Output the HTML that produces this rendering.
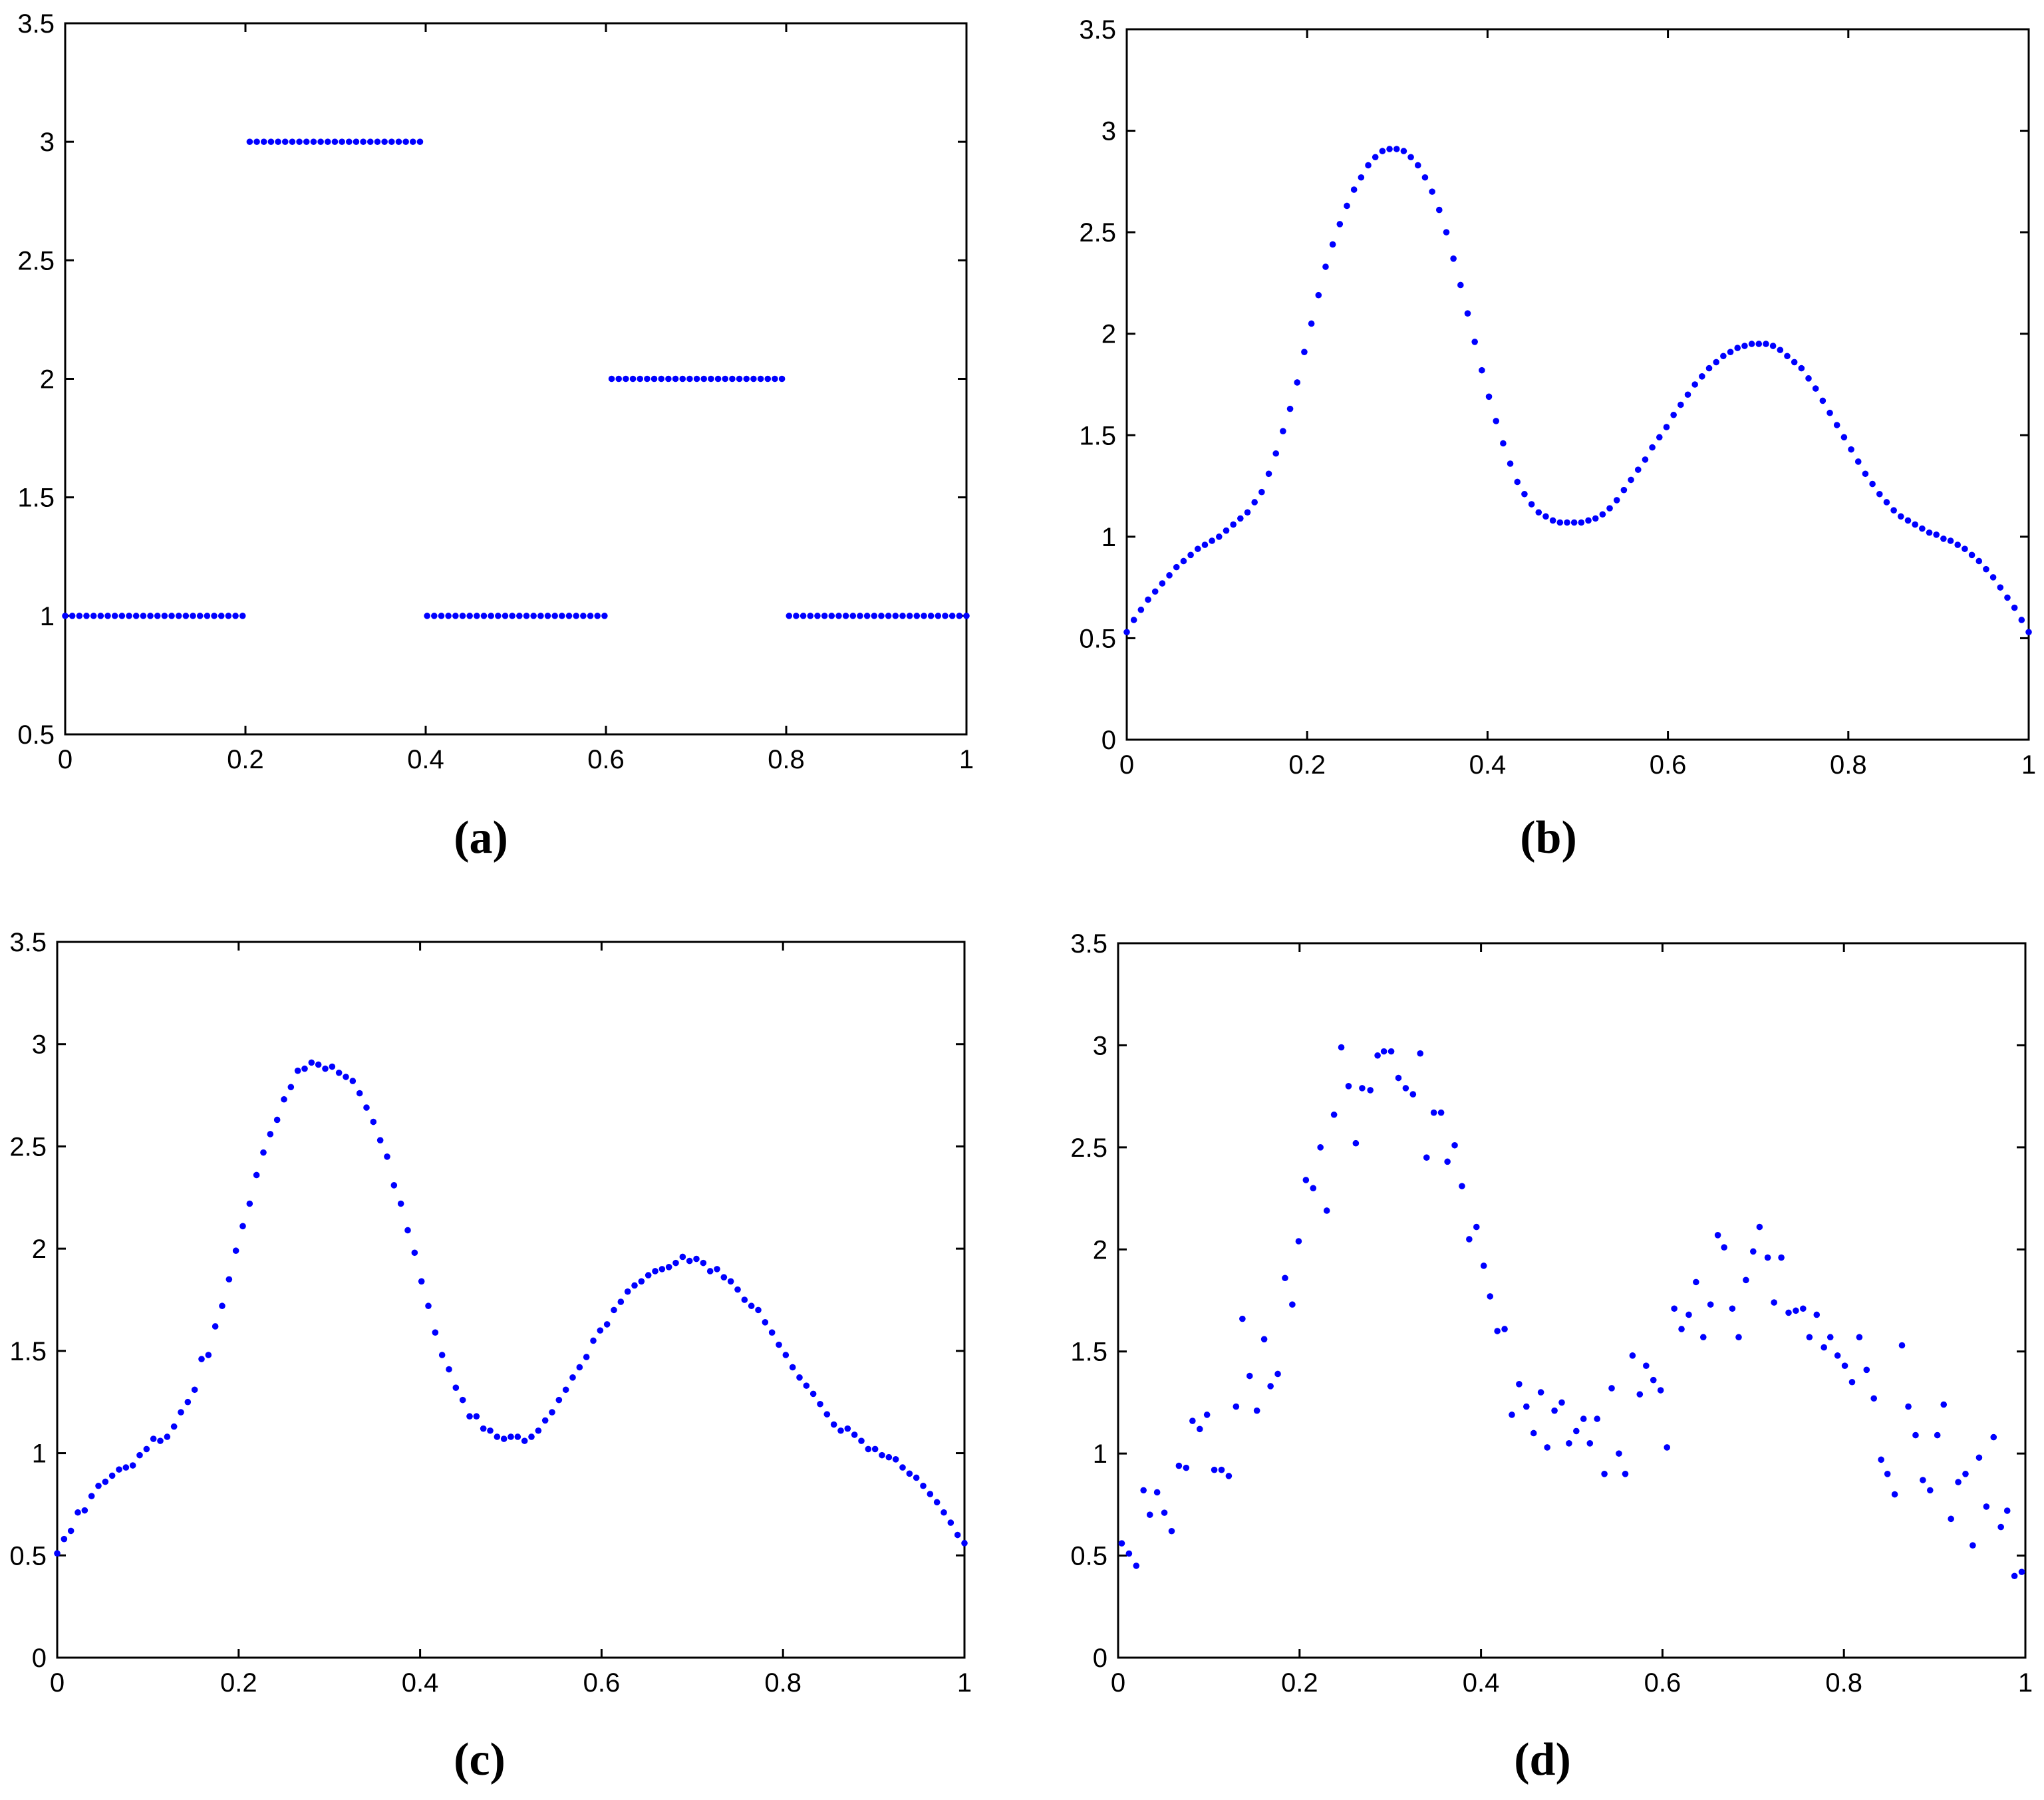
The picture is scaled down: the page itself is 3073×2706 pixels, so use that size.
<!DOCTYPE html>
<html><head><meta charset="utf-8"><style>
html,body{margin:0;padding:0;background:#fff}
svg{display:block}
</style></head><body>
<svg id="fig" width="3073" height="2706" viewBox="0 0 3073 2706" xmlns="http://www.w3.org/2000/svg"></svg>
<script>
// ---- data ----
const xTicks = [0, 0.2, 0.4, 0.6, 0.8, 1];
const xTickLabels = ["0", "0.2", "0.4", "0.6", "0.8", "1"];
const yTicksA = [0.5, 1, 1.5, 2, 2.5, 3, 3.5];
const yTickLabelsA = ["0.5", "1", "1.5", "2", "2.5", "3", "3.5"];
const yTicksB = [0, 0.5, 1, 1.5, 2, 2.5, 3, 3.5];
const yTickLabelsB = ["0", "0.5", "1", "1.5", "2", "2.5", "3", "3.5"];
const panelLabels = ["(a)", "(b)", "(c)", "(d)"];

// panel (a): piecewise constant levels per segment
const segLevelsA = [1, 3, 1, 2, 1];
const nSamples = 128;

// panel (b): exact smooth profile
const seriesB = [0.53,0.59,0.64,0.69,0.73,0.77,0.81,0.85,0.88,0.91,0.94,0.96,0.98,1.00,1.03,1.06,1.09,1.12,1.17,1.22,
1.31,1.41,1.52,1.63,1.76,1.91,2.05,2.19,2.33,2.44,2.54,2.63,2.71,2.77,2.83,2.87,2.90,2.91,2.91,2.90,
2.87,2.83,2.77,2.70,2.61,2.50,2.37,2.24,2.10,1.96,1.82,1.69,1.57,1.46,1.36,1.27,1.21,1.16,1.12,1.10,
1.08,1.07,1.07,1.07,1.07,1.08,1.09,1.11,1.14,1.18,1.23,1.28,1.33,1.38,1.44,1.49,1.54,1.60,1.65,1.70,
1.75,1.79,1.83,1.86,1.89,1.91,1.93,1.94,1.95,1.95,1.95,1.94,1.92,1.89,1.86,1.83,1.78,1.73,1.67,1.61,
1.55,1.49,1.43,1.37,1.31,1.26,1.21,1.17,1.13,1.10,1.08,1.06,1.04,1.02,1.01,0.99,0.98,0.96,0.94,0.91,
0.88,0.84,0.80,0.75,0.70,0.65,0.59,0.53];

// panel (c): lightly noisy profile
const seriesC = [0.51,0.58,0.62,0.71,0.72,0.79,0.84,0.86,0.89,0.92,0.93,0.94,0.99,1.02,1.07,1.06,1.08,1.13,1.20,1.25,
1.31,1.46,1.48,1.62,1.72,1.85,1.99,2.11,2.22,2.36,2.47,2.56,2.63,2.73,2.79,2.87,2.88,2.91,2.90,2.88,
2.89,2.86,2.84,2.82,2.76,2.69,2.62,2.53,2.45,2.31,2.22,2.09,1.98,1.84,1.72,1.59,1.48,1.41,1.32,1.26,
1.18,1.18,1.12,1.11,1.08,1.07,1.08,1.08,1.06,1.08,1.11,1.16,1.20,1.26,1.31,1.37,1.42,1.47,1.55,1.60,
1.63,1.70,1.74,1.79,1.82,1.84,1.87,1.89,1.90,1.91,1.93,1.96,1.94,1.95,1.93,1.89,1.90,1.86,1.84,1.80,
1.75,1.72,1.70,1.64,1.59,1.53,1.48,1.42,1.37,1.33,1.29,1.24,1.19,1.14,1.11,1.12,1.09,1.06,1.02,1.02,
0.99,0.98,0.97,0.93,0.90,0.88,0.84,0.80,0.76,0.71,0.66,0.60,0.56];

// panel (d): strongly noisy samples (x, y)
const xD = [.004,.012,.020,.028,.035,.043,.051,.059,.067,.075,.082,.090,.098,.106,.114,.122,.130,.137,.145,.153,
.161,.168,.176,.184,.192,.199,.207,.215,.223,.230,.238,.246,.254,.262,.269,.278,.286,.293,.301,.309,
.317,.325,.333,.340,.348,.356,.363,.371,.379,.387,.395,.403,.410,.418,.426,.434,.442,.450,.458,.466,
.473,.481,.489,.497,.505,.513,.520,.528,.536,.544,.552,.559,.567,.575,.582,.590,.598,.605,.613,.621,
.629,.637,.645,.653,.661,.668,.677,.684,.692,.700,.707,.716,.723,.731,.739,.747,.755,.762,.770,.778,
.785,.793,.801,.809,.817,.825,.833,.841,.848,.856,.864,.871,.879,.887,.895,.903,.910,.918,.926,.934,
.942,.949,.957,.965,.973,.980,.988,.996];
const yD = [.56,.51,.45,.82,.70,.81,.71,.62,.94,.93,1.16,1.12,1.19,.92,.92,.89,1.23,1.66,1.38,1.21,
1.56,1.33,1.39,1.86,1.73,2.04,2.34,2.30,2.50,2.19,2.66,2.99,2.80,2.52,2.79,2.78,2.95,2.97,2.97,2.84,
2.79,2.76,2.96,2.45,2.67,2.67,2.43,2.51,2.31,2.05,2.11,1.92,1.77,1.60,1.61,1.19,1.34,1.23,1.10,1.30,
1.03,1.21,1.25,1.05,1.11,1.17,1.05,1.17,.90,1.32,1.00,.90,1.48,1.29,1.43,1.36,1.31,1.03,1.71,1.61,
1.68,1.84,1.57,1.73,2.07,2.01,1.71,1.57,1.85,1.99,2.11,1.96,1.74,1.96,1.69,1.70,1.71,1.57,1.68,1.52,
1.57,1.48,1.43,1.35,1.57,1.41,1.27,.97,.90,.80,1.53,1.23,1.09,.87,.82,1.09,1.24,.68,.86,.90,
.55,.98,.74,1.08,.64,.72,.40,.42];

// ---- layout ----
const panels = [
  {name:"a", x0:98,  x1:1453, y0:35,   y1:1104, ymin:0.5, yt:yTicksA, yl:yTickLabelsA, lx:723,  ly:1282},
  {name:"b", x0:1694,x1:3050, y0:44,   y1:1112, ymin:0,   yt:yTicksB, yl:yTickLabelsB, lx:2328, ly:1282},
  {name:"c", x0:86,  x1:1450, y0:1416, y1:2492, ymin:0,   yt:yTicksB, yl:yTickLabelsB, lx:721,  ly:2668},
  {name:"d", x0:1681,x1:3045, y0:1418, y1:2492, ymin:0,   yt:yTicksB, yl:yTickLabelsB, lx:2319, ly:2668}
];
const NS = "http://www.w3.org/2000/svg";
const svg = document.getElementById("fig");
function mk(tag, attrs, parent){
  const e = document.createElementNS(NS, tag);
  for (const k in attrs) e.setAttribute(k, attrs[k]);
  (parent||svg).appendChild(e);
  return e;
}
function xs(p, v){ return p.x0 + (p.x1 - p.x0) * v; }
function ys(p, v){ return p.y1 - (p.y1 - p.y0) * (v - p.ymin) / (3.5 - p.ymin); }

function pointsFor(i){
  const pts = [];
  if (i === 0){
    for (let k = 0; k < nSamples; k++){
      const x = k / (nSamples - 1);
      const seg = Math.min(segLevelsA.length - 1, Math.floor(x * segLevelsA.length - 1e-9));
      pts.push([x, segLevelsA[Math.max(0, seg)]]);
    }
  } else if (i === 1){
    seriesB.forEach((v, k) => pts.push([k / (seriesB.length - 1), v]));
  } else if (i === 2){
    seriesC.forEach((v, k) => pts.push([k / (seriesC.length - 1), v]));
  } else {
    yD.forEach((v, k) => pts.push([xD[k], v]));
  }
  return pts;
}

panels.forEach((p, i) => {
  const g = mk("g", {});
  
  
  const fr = mk("rect", {x:p.x0, y:p.y0, width:p.x1-p.x0, height:p.y1-p.y0, fill:"none", stroke:"#000", "stroke-width":3}, g);
  
  
  const tl = 13;
  xTicks.forEach((t, k) => {
    const X = xs(p, t);
    const a = mk("line", {x1:X, x2:X, y1:p.y1, y2:p.y1-tl, stroke:"#000", "stroke-width":3}, g);
    
    
    const b = mk("line", {x1:X, x2:X, y1:p.y0, y2:p.y0+tl, stroke:"#000", "stroke-width":3}, g);
    
    
    const tx = mk("text", {x:X, y:p.y1+51, "text-anchor":"middle", "font-family":"Liberation Sans, sans-serif", "font-size":40, fill:"#000"}, g);
    tx.textContent = xTickLabels[k];
    
    
  });
  p.yt.forEach((t, k) => {
    const Y = ys(p, t);
    const a = mk("line", {x1:p.x0, x2:p.x0+tl, y1:Y, y2:Y, stroke:"#000", "stroke-width":3}, g);
    
    
    const b = mk("line", {x1:p.x1, x2:p.x1-tl, y1:Y, y2:Y, stroke:"#000", "stroke-width":3}, g);
    
    
    const tx = mk("text", {x:p.x0-16, y:Y+14, "text-anchor":"end", "font-family":"Liberation Sans, sans-serif", "font-size":40, fill:"#000"}, g);
    tx.textContent = p.yl[k];
    
    
  });
  pointsFor(i).forEach(([x, y]) => {
    const c = mk("circle", {cx:xs(p, x), cy:ys(p, y), r:4.8, fill:"#0000ff"}, g);
    
    
  });
  const lb = mk("text", {x:p.lx, y:p.ly, "text-anchor":"middle", "font-family":"Liberation Serif, serif", "font-weight":"bold", "font-size":70, fill:"#000"}, g);
  lb.textContent = panelLabels[i];
  
  
});
</script>
</body></html>
